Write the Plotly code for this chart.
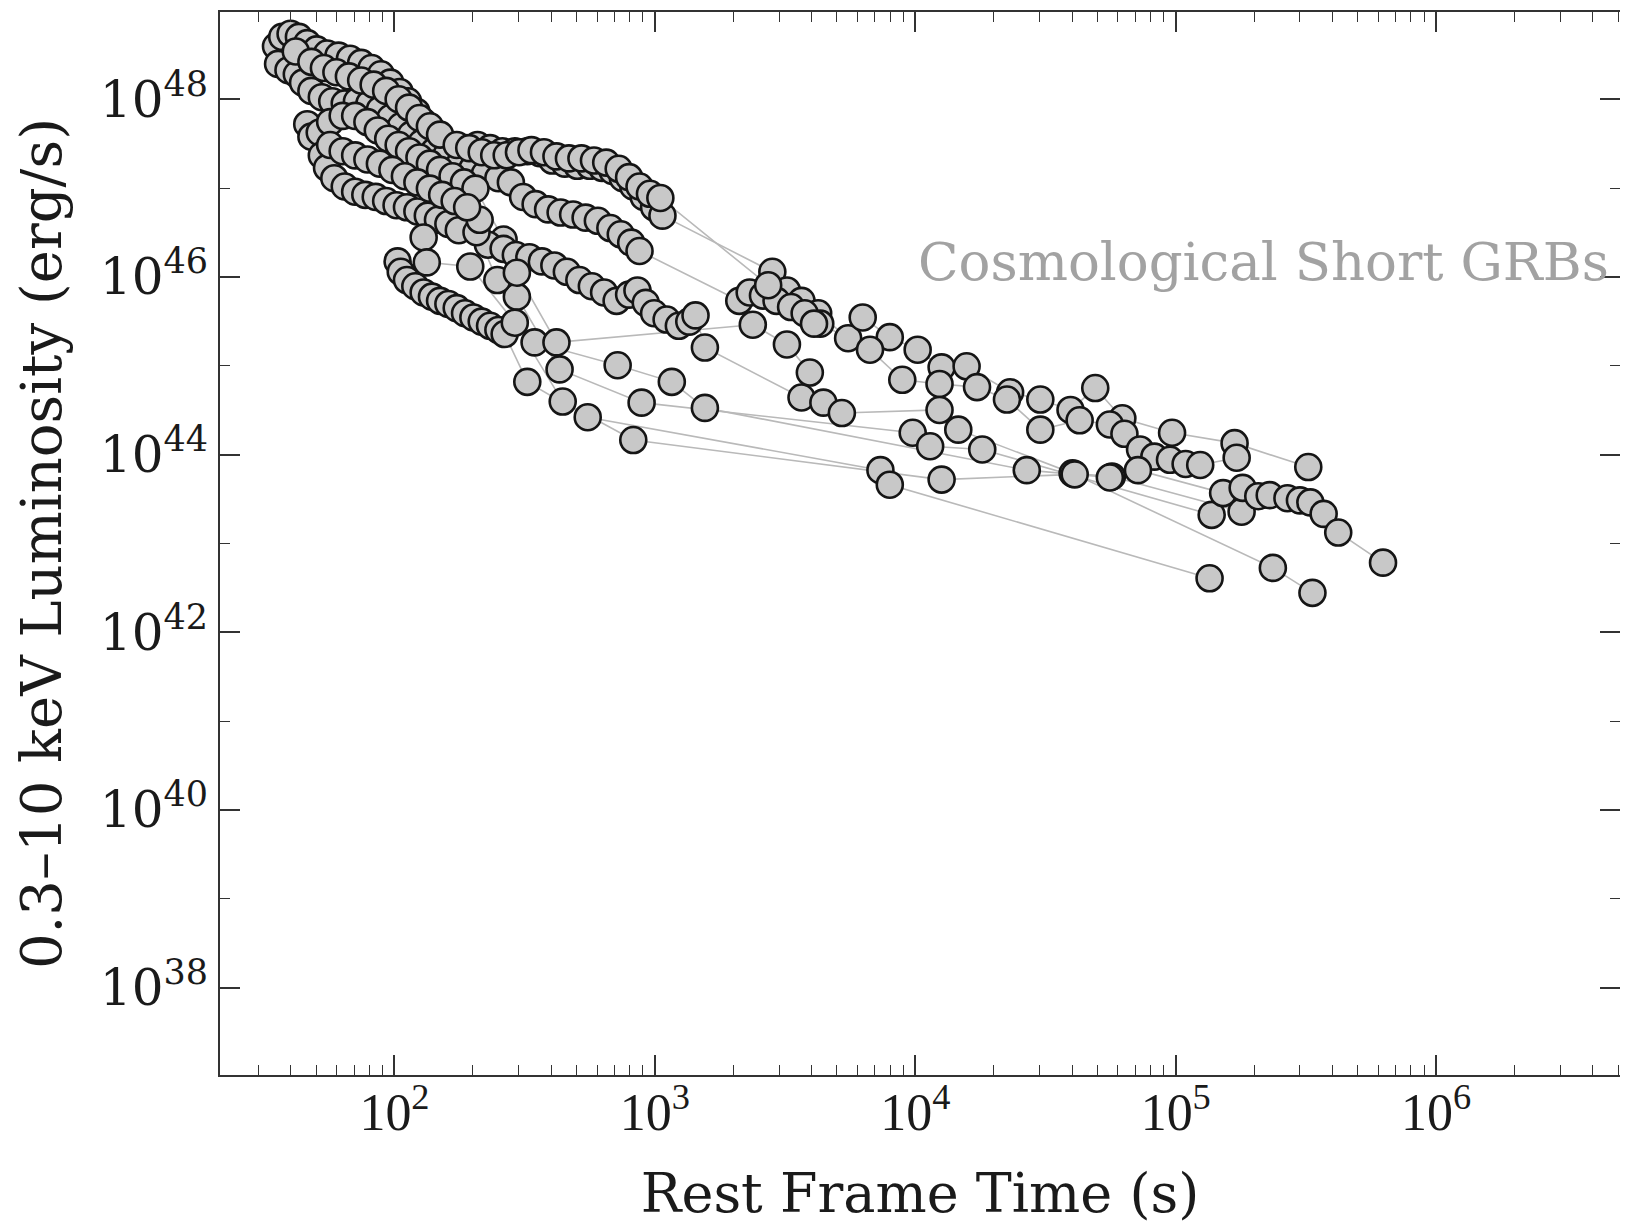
import plotly.graph_objects as go

# ---- data: log10(rest-frame time [s]) and log10(0.3-10 keV luminosity [erg/s]) per GRB ----
grb1_logt = [1.545, 1.569, 1.601, 1.633, 1.665, 1.701, 1.741, 1.785, 1.829, 1.872, 1.912, 1.948, 1.984, 2.020,
             2.052, 2.084, 2.112, 2.144, 2.179, 2.223, 2.271, 2.319, 2.367, 2.415, 2.462, 2.510, 2.558, 2.606,
             2.654, 2.702, 2.750, 2.797, 2.837, 2.877, 2.917, 2.957, 2.997, 3.029, 3.451, 3.507, 3.563, 3.627,
             3.742, 3.798, 3.902, 4.009, 4.101, 4.197, 4.364, 4.480, 4.596, 4.691, 4.795, 4.986, 5.226, 5.509]
grb1_logL = [48.596, 48.702, 48.737, 48.702, 48.632, 48.561, 48.515, 48.491, 48.456, 48.409, 48.351, 48.281,
             48.187, 48.082, 47.977, 47.860, 47.743, 47.637, 47.556, 47.485, 47.450, 47.485, 47.450, 47.415,
             47.415, 47.415, 47.392, 47.310, 47.275, 47.251, 47.251, 47.228, 47.193, 47.111, 47.018, 46.901,
             46.784, 46.690, 46.058, 45.848, 45.731, 45.591, 45.310, 45.544, 45.322, 45.181, 44.982, 44.994,
             44.702, 44.620, 44.503, 44.749, 44.409, 44.246, 44.129, 43.860]

grb2_logt = [1.553, 1.593, 1.625, 1.649, 1.681, 1.721, 1.761, 1.809, 1.856, 1.904, 1.944, 1.984, 2.024, 2.064,
             2.104, 2.152, 2.199, 2.251, 2.299, 2.347, 2.399, 2.447, 2.494, 2.542, 2.590, 2.638, 2.686, 2.734,
             2.781, 2.829, 2.869, 2.909, 2.941, 3.324, 3.364, 3.415, 3.467, 3.523, 3.575, 3.635, 3.826,
             3.950, 4.093, 4.237, 4.352, 4.480, 4.631, 4.747, 4.803, 4.863, 4.918, 4.978, 5.038, 5.094, 5.234]
grb2_logL = [48.398, 48.327, 48.281, 48.187, 48.094, 48.023, 47.977, 47.953, 47.977, 47.953, 47.883, 47.789,
             47.696, 47.602, 47.509, 47.415, 47.368, 47.275, 47.216, 47.158, 47.111, 47.064, 46.900, 46.819,
             46.760, 46.725, 46.702, 46.667, 46.632, 46.550, 46.480, 46.386, 46.292, 45.731, 45.825,
             45.790, 45.731, 45.661, 45.591, 45.474, 45.181, 44.842, 44.795, 44.760, 44.620, 44.281, 44.386,
             44.339, 44.234, 44.058, 43.977, 43.942, 43.895, 43.883, 43.965]

grb3_logt = [1.665, 1.681, 1.713, 1.753, 1.801, 1.849, 1.896, 1.936, 1.976, 2.016, 2.056, 2.096, 2.136, 2.175,
             2.223, 2.267, 2.311, 2.419, 2.470, 2.634, 2.949, 3.990, 4.057, 4.257, 5.138]
grb3_logL = [47.719, 47.579, 47.626, 47.743, 47.813, 47.813, 47.743, 47.649, 47.556, 47.485, 47.415, 47.345,
             47.275, 47.205, 47.134, 47.064, 46.994, 46.421, 45.778, 44.959, 44.585, 44.246, 44.094, 44.058,
             43.322]

grb4_logt = [1.721, 1.741, 1.769, 1.809, 1.849, 1.888, 1.928, 1.968, 2.008, 2.048, 2.088, 2.128, 2.167, 2.207,
             2.247, 2.359, 2.419, 2.466, 2.518, 2.566, 2.614, 2.662, 2.710, 2.758, 2.805, 2.853, 2.901, 2.933,
             2.965, 2.997, 3.045, 3.092, 3.132, 3.156, 3.192, 3.563, 3.647, 3.718, 4.093, 4.165, 4.604, 4.755,
             5.253]
grb4_logL = [47.368, 47.228, 47.111, 47.018, 46.959, 46.924, 46.901, 46.854, 46.807, 46.784, 46.737, 46.690,
             46.643, 46.596, 46.526, 46.363, 46.316, 46.246, 46.222, 46.175, 46.129, 46.058, 45.965, 45.895,
             45.825, 45.731, 45.801, 45.848, 45.708, 45.591, 45.520, 45.450, 45.497, 45.567, 45.205, 44.643,
             44.585, 44.468, 44.503, 44.281, 43.789, 43.754, 43.357]

grb5_logt = [2.012, 2.024, 2.048, 2.080, 2.112, 2.144, 2.175, 2.207, 2.239, 2.271, 2.303, 2.335, 2.367, 2.399,
             2.423, 2.510, 2.742, 3.866, 3.902, 5.130]
grb5_logL = [46.175, 46.058, 45.965, 45.895, 45.825, 45.778, 45.731, 45.696, 45.649, 45.591, 45.544, 45.497,
             45.450, 45.403, 45.357, 44.819, 44.421, 43.825, 43.661, 42.608]

grb6_logt = [2.112, 2.124, 2.291, 2.462, 2.646, 2.917, 4.101, 4.612, 5.373, 5.525]
grb6_logL = [46.444, 46.164, 46.117, 45.485, 44.597, 44.164, 43.719, 43.778, 42.725, 42.444]

grb7_logt = [2.315, 2.395, 2.538, 2.857, 3.065, 3.192, 4.428, 4.747, 4.855, 5.182, 5.257, 5.317, 5.361, 5.429,
             5.477, 5.517, 5.568, 5.624, 5.796]
grb7_logL = [46.503, 45.965, 45.263, 45.006, 44.819, 44.526, 43.825, 43.743, 43.825, 43.567, 43.626, 43.532,
             43.544, 43.509, 43.485, 43.462, 43.333, 43.123, 42.784]

grb8_logt = [2.327, 2.470, 2.622, 3.376, 3.507, 3.595]
grb8_logL = [46.643, 46.047, 45.263, 45.462, 45.240, 44.924]

grb9_logt = [1.621, 1.681, 1.729, 1.777, 1.825, 1.872, 1.920, 1.968, 2.016, 2.056, 2.096, 2.136, 2.175,
             2.239, 2.287, 2.335, 2.383, 2.431, 2.478, 2.526, 2.574, 2.622, 2.670, 2.718, 2.766, 2.813, 2.861,
             2.901, 2.941, 2.981, 3.021, 3.435, 3.611]
grb9_logL = [48.538, 48.421, 48.351, 48.304, 48.257, 48.211, 48.164, 48.094, 48.000, 47.906, 47.789, 47.696,
             47.602, 47.485, 47.450, 47.404, 47.369, 47.369, 47.404, 47.427, 47.404, 47.357, 47.334, 47.334,
             47.310, 47.287, 47.217, 47.123, 47.018, 46.936, 46.889, 45.907, 45.474]

grb10_logt = [1.753, 1.801, 1.849, 1.896, 1.944, 1.992, 2.040, 2.088, 2.136, 2.183, 2.231, 2.279]
grb10_logL = [47.485, 47.415, 47.368, 47.322, 47.275, 47.205, 47.134, 47.064, 46.994, 46.924, 46.854, 46.784]

curves = [
    (grb1_logt, grb1_logL), (grb2_logt, grb2_logL), (grb3_logt, grb3_logL), (grb4_logt, grb4_logL),
    (grb5_logt, grb5_logL), (grb6_logt, grb6_logL), (grb7_logt, grb7_logL), (grb8_logt, grb8_logL),
    (grb9_logt, grb9_logL), (grb10_logt, grb10_logL),
]

x_tick_exponents = [2, 3, 4, 5, 6]
y_tick_exponents = [38, 40, 42, 44, 46, 48]
y_minor_exponents = [37, 39, 41, 43, 45, 47]
label_text = "Cosmological Short GRBs"

fig = go.Figure()

# connecting lines first (beneath all markers)
for lt, lL in curves:
    fig.add_trace(go.Scatter(
        x=[10 ** v for v in lt], y=[10 ** v for v in lL], mode="lines",
        line=dict(color="#b9b9b9", width=1.6), hoverinfo="skip"))

for lt, lL in curves:
    fig.add_trace(go.Scatter(
        x=[10 ** v for v in lt], y=[10 ** v for v in lL], mode="markers",
        marker=dict(size=26, color="#c8c8c8", line=dict(color="#151515", width=2.6))))

# empty trace that only carries the right-hand tick axis
fig.add_trace(go.Scatter(x=[], y=[], yaxis="y2", mode="markers", hoverinfo="skip"))

x_minor = [m * 10 ** e for e in range(1, 7) for m in range(2, 10)]
y_range = [37.017, 48.982]

fig.update_xaxes(
    type="log", range=[1.330, 6.706], ticklen=20,
    showline=True, linecolor="#333333", linewidth=2, mirror="ticks",
    ticks="inside", tickcolor="#333333", tickwidth=1.6, showgrid=False, zeroline=False, automargin=False,
    tickvals=[10 ** e for e in x_tick_exponents],
    ticktext=["10<sup>%d</sup>" % e for e in x_tick_exponents],
    tickfont=dict(family="Liberation Serif", size=52, color="#1a1a1a"),
    ticklabelstandoff=-9,
    minor=dict(tickvals=x_minor, ticks="inside", ticklen=10, tickwidth=1.4,
               tickcolor="#333333", showgrid=False),
    title=dict(text="Rest Frame Time (s)", font=dict(family="DejaVu Serif", size=54, color="#1a1a1a"),
               standoff=34))

fig.update_layout(
    yaxis=dict(
        type="log", range=y_range, ticklen=20,
        showline=True, linecolor="#333333", linewidth=2, mirror=False,
        ticks="inside", tickcolor="#333333", tickwidth=1.6, showgrid=False, zeroline=False,
        automargin=False,
        tickvals=[10.0 ** e for e in y_tick_exponents],
        ticktext=["10<sup>%d</sup>" % e for e in y_tick_exponents],
        tickfont=dict(family="DejaVu Serif", size=50, color="#1a1a1a"),
        minor=dict(tickvals=[10.0 ** e for e in y_minor_exponents], ticks="inside", ticklen=10,
                   tickwidth=1.4, tickcolor="#333333", showgrid=False),
        title=dict(text="0.3\u201310 keV Luminosity (erg/s)",
                   font=dict(family="DejaVu Serif", size=56, color="#1a1a1a"), standoff=20)),
    yaxis2=dict(
        type="log", range=y_range, overlaying="y", side="right", showline=False,
        ticks="inside", ticklen=20, tickcolor="#333333", tickwidth=1.6, showgrid=False, zeroline=False,
        automargin=False, showticklabels=False,
        tickvals=[10.0 ** e for e in y_tick_exponents],
        minor=dict(tickvals=[10.0 ** e for e in y_minor_exponents], ticks="inside", ticklen=10,
                   tickwidth=1.4, tickcolor="#333333", showgrid=False)),
)

fig.add_annotation(text=label_text, xref="paper", yref="paper", x=0.497, y=0.765,
                   xanchor="left", yanchor="middle", showarrow=False,
                   font=dict(family="DejaVu Serif", size=53, color="#a2a2a2"))

fig.update_layout(width=1612, height=1227, margin=dict(l=212, r=0, t=4, b=160),
                  plot_bgcolor="white", paper_bgcolor="white", showlegend=False)

fig.write_html("out.html")
